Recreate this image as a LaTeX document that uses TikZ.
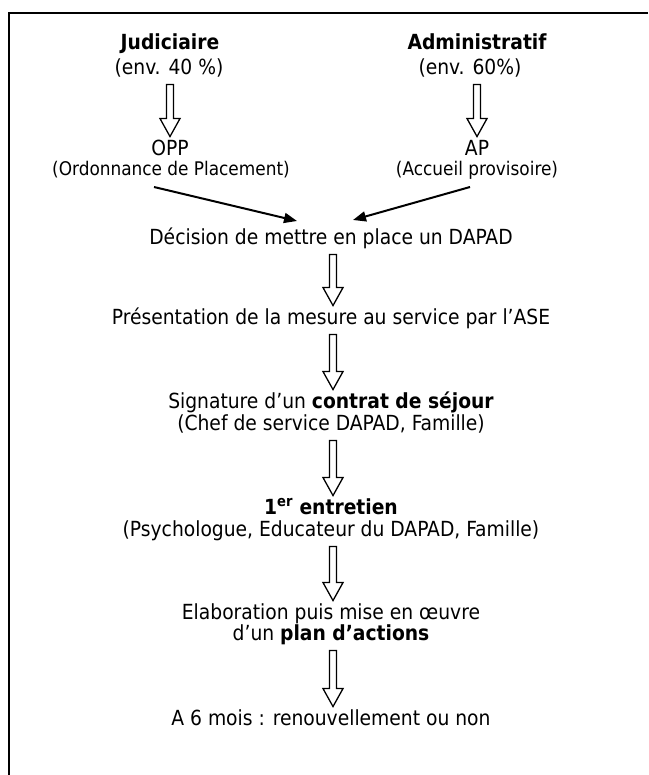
\documentclass[tikz,border=0pt]{standalone}
\usepackage{fontspec}
\IfFontExistsTF{DejaVu Sans Condensed}{\setmainfont{DejaVu Sans Condensed}}{\setmainfont{DejaVu Sans}}
\usetikzlibrary{arrows.meta,calc}
\newcommand\harrow[3][0pt]{%
  \draw[hollowarr] let \p1=($(#2.south)+(0,5)$), \p2=($(#3.north)+(0,-3)$), \n1={\x2+#1} in
  (\n1-3.5pt,\y1) -- (\n1+3.5pt,\y1) -- (\n1+3.5pt,\y2+18pt) -- (\n1+10pt,\y2+18pt) --
  (\n1,\y2) -- (\n1-10pt,\y2+18pt) -- (\n1-3.5pt,\y2+18pt) -- cycle;}
\begin{document}
\begin{tikzpicture}[x=1pt,y=-1pt,
  lbl/.style={inner sep=0pt, text height=15.5pt, text depth=5pt, font=\fontsize{20.8}{22}\selectfont},
  sml/.style={inner sep=0pt, text height=13.5pt, text depth=4.5pt, font=\fontsize{18.8}{20}\selectfont},
  hollowarr/.style={draw=black, line width=1.3pt, fill=white, line join=miter},
  blackarr/.style={line width=2pt, -{Triangle[length=13pt,width=10pt]}},
  frame/.style={line width=2pt}]
\useasboundingbox (0,0) rectangle (648,775);
\draw[frame] (648,13) -- (9,13) -- (9,775);

\node[lbl,font=\fontsize{20.8}{22}\selectfont\bfseries] (jud) at (170,44) {Judiciaire};
\node[lbl] (jud2) at (169,69) {(env. 40 \%)};
\node[lbl] (opp) at (170,150) {OPP};
\node[sml] (opp2) at (171,171) {(Ordonnance de Placement)};

\node[lbl,font=\fontsize{20.8}{22}\selectfont\bfseries] (adm) at (477,44) {Administratif};
\node[lbl] (adm2) at (470,69) {(env. 60\%)};
\node[lbl] (ap) at (477,150) {AP};
\node[sml] (ap2) at (477,171) {(Accueil provisoire)};

\node[lbl] (dec) at (331,239) {Décision de mettre en place un DAPAD};
\node[lbl] (pres) at (331,319) {Présentation de la mesure au service par l’ASE};
\node[lbl] (sig) at (331,403) {Signature d’un \textbf{contrat de séjour}};
\node[lbl] (sig2) at (331,425) {(Chef de service DAPAD, Famille)};
\node[lbl] (ent) at (331,509) {\textbf{1\textsuperscript{er} entretien}};
\node[lbl] (ent2) at (331,531) {(Psychologue, Educateur du DAPAD, Famille)};
\node[lbl] (ela) at (331,614) {Elaboration puis mise en œuvre};
\node[lbl] (ela2) at (331,635) {d’un \textbf{plan d’actions}};
\node[lbl] (fin) at (331,720) {A 6 mois : renouvellement ou non};

\harrow{jud2}{opp}
\harrow{adm2}{ap}
\harrow[2pt]{dec}{pres}
\harrow[2pt]{pres}{sig}
\harrow[2pt]{sig2}{ent}
\harrow[2pt]{ent2}{ela}
\harrow[2pt]{ela2}{fin}

\coordinate (ls) at (154,187);
\coordinate (le) at (297,221);
\coordinate (rs) at (470,187);
\coordinate (re) at (353,220);
\draw[blackarr] (ls) -- (le);
\draw[blackarr] (rs) -- (re);
\end{tikzpicture}
\end{document}
